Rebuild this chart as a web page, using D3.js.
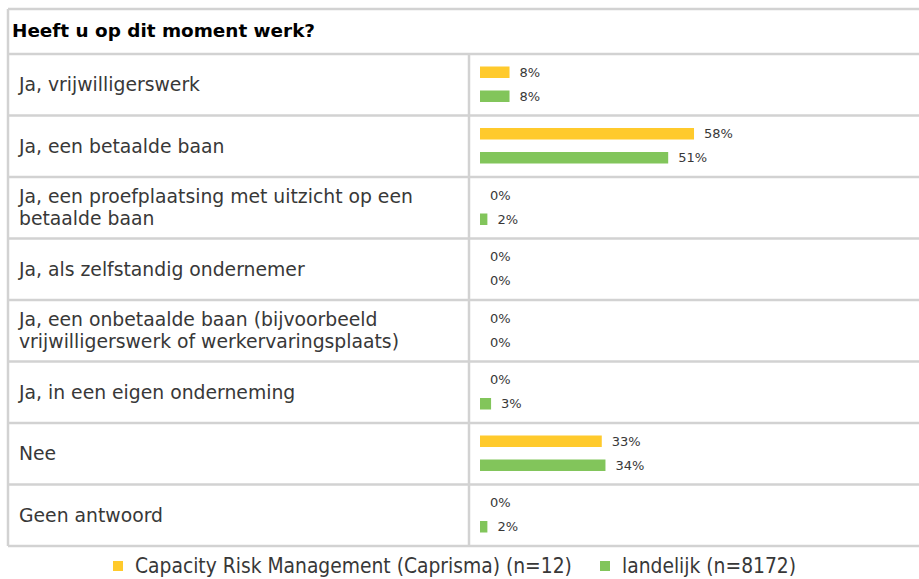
<!DOCTYPE html>
<html>
<head>
<meta charset="utf-8">
<script src="https://cdn.jsdelivr.net/npm/d3@7"></script>
<style>
  html, body { margin: 0; padding: 0; background: #fff; }
  svg { display: block; }
</style>
</head>
<body>
<svg id="chart" width="919" height="579"></svg>
<script>
// Survey question and answer options
const question = "Heeft u op dit moment werk?";
const categories = [
  "Ja, vrijwilligerswerk",
  "Ja, een betaalde baan",
  "Ja, een proefplaatsing met uitzicht op een betaalde baan",
  "Ja, als zelfstandig ondernemer",
  "Ja, een onbetaalde baan (bijvoorbeeld vrijwilligerswerk of werkervaringsplaats)",
  "Ja, in een eigen onderneming",
  "Nee",
  "Geen antwoord"
];
const seriesNames = [
  "Capacity Risk Management (Caprisma) (n=12)",
  "landelijk (n=8172)"
];
const caprismaValues = [8, 58, 0, 0, 0, 0, 33, 0];
const landelijkValues = [8, 51, 2, 0, 0, 3, 34, 2];
const seriesColors = ["#ffca2c", "#82c55b"];

const seriesKeys = ["caprisma", "landelijk"];
const rows = categories.map((c, i) => ({
  label: c,
  caprisma: caprismaValues[i],
  landelijk: landelijkValues[i]
}));

const svg = d3.select("#chart");
const borderColor = "#d2d2d2";
const textColor = "#383838";

// Table geometry
const tableLeft = 8, tableRight = 930;
const tableTop = 9, headerBottom = 54, tableBottom = 546;
const colDivider = 469;
const barStart = 480;

const y = d3.scaleBand()
  .domain(d3.range(categories.length))
  .range([headerBottom, tableBottom])
  .paddingInner(0);

const x = d3.scaleLinear().domain([0, 100]).range([0, 369]);

// Header
svg.append("text")
  .attr("x", 12)
  .attr("y", 37)
  .attr("font-family", "DejaVu Sans, Verdana, sans-serif")
  .attr("font-weight", "bold")
  .attr("font-size", 18.4)
  .attr("fill", "#000")
  .text(question);

// Row groups
const rowG = svg.selectAll("g.row")
  .data(rows)
  .join("g")
  .attr("class", "row")
  .attr("transform", (d, i) => `translate(0,${y(i) + y.bandwidth() / 2})`);

// Category labels, wrapped to the left column width
const wrapWidth = 440;
rowG.each(function(d) {
  const g = d3.select(this);
  const t = g.append("text")
    .attr("x", 19)
    .attr("font-family", "DejaVu Sans, Verdana, sans-serif")
    .attr("font-size", 18.8)
    .attr("fill", textColor);
  const words = d.label.split(" ");
  const lines = [];
  let line = [];
  const probe = t.append("tspan");
  words.forEach(w => {
    line.push(w);
    probe.text(line.join(" "));
    if (probe.node().getComputedTextLength() > wrapWidth && line.length > 1) {
      line.pop();
      lines.push(line.join(" "));
      line = [w];
    }
  });
  lines.push(line.join(" "));
  probe.remove();
  const lh = 22;
  const y0 = -(lines.length - 1) * lh / 2;
  lines.forEach((l, k) => {
    t.append("tspan")
      .attr("x", 19)
      .attr("y", y0 + k * lh)
      .attr("dy", "0.35em")
      .text(l);
  });
});

// Bars and value labels
const barH = 11.5;
seriesKeys.forEach((key, s) => {
  const cy = s === 0 ? -12.5 : 11.5;
  rowG.append("rect")
    .attr("x", barStart)
    .attr("y", cy - barH / 2)
    .attr("width", d => x(d[key]))
    .attr("height", barH)
    .attr("fill", seriesColors[s]);
  rowG.append("text")
    .attr("x", d => barStart + x(d[key]) + 10)
    .attr("y", cy)
    .attr("dy", "0.35em")
    .attr("font-family", "DejaVu Sans, Verdana, sans-serif")
    .attr("font-size", 13)
    .attr("fill", textColor)
    .text(d => d[key] + "%");
});

// Table grid lines
const grid = svg.append("g")
  .attr("stroke", borderColor)
  .attr("stroke-width", 2.5)
  .attr("fill", "none");
const hLines = [tableTop, headerBottom].concat(d3.range(1, categories.length + 1).map(i => y(i - 1) + y.bandwidth()));
grid.selectAll("line.h")
  .data(hLines)
  .join("line")
  .attr("x1", tableLeft)
  .attr("x2", tableRight)
  .attr("y1", d => d)
  .attr("y2", d => d);
grid.append("line")
  .attr("x1", tableLeft).attr("x2", tableLeft)
  .attr("y1", tableTop).attr("y2", tableBottom);
grid.append("line")
  .attr("x1", colDivider).attr("x2", colDivider)
  .attr("y1", headerBottom).attr("y2", tableBottom);

// Legend
const legendItems = [
  { name: seriesNames[0], color: seriesColors[0], x: 113 },
  { name: seriesNames[1], color: seriesColors[1], x: 600 }
];
const leg = svg.selectAll("g.legend")
  .data(legendItems)
  .join("g")
  .attr("class", "legend")
  .attr("transform", d => `translate(${d.x},561)`);
leg.append("rect")
  .attr("width", 10)
  .attr("height", 10)
  .attr("fill", d => d.color);
leg.append("text")
  .attr("x", 22)
  .attr("y", 5)
  .attr("dy", "0.35em")
  .attr("font-family", "DejaVu Sans Condensed, sans-serif")
  .attr("font-size", 20.8)
  .attr("fill", textColor)
  .text(d => d.name);
</script>
</body>
</html>
